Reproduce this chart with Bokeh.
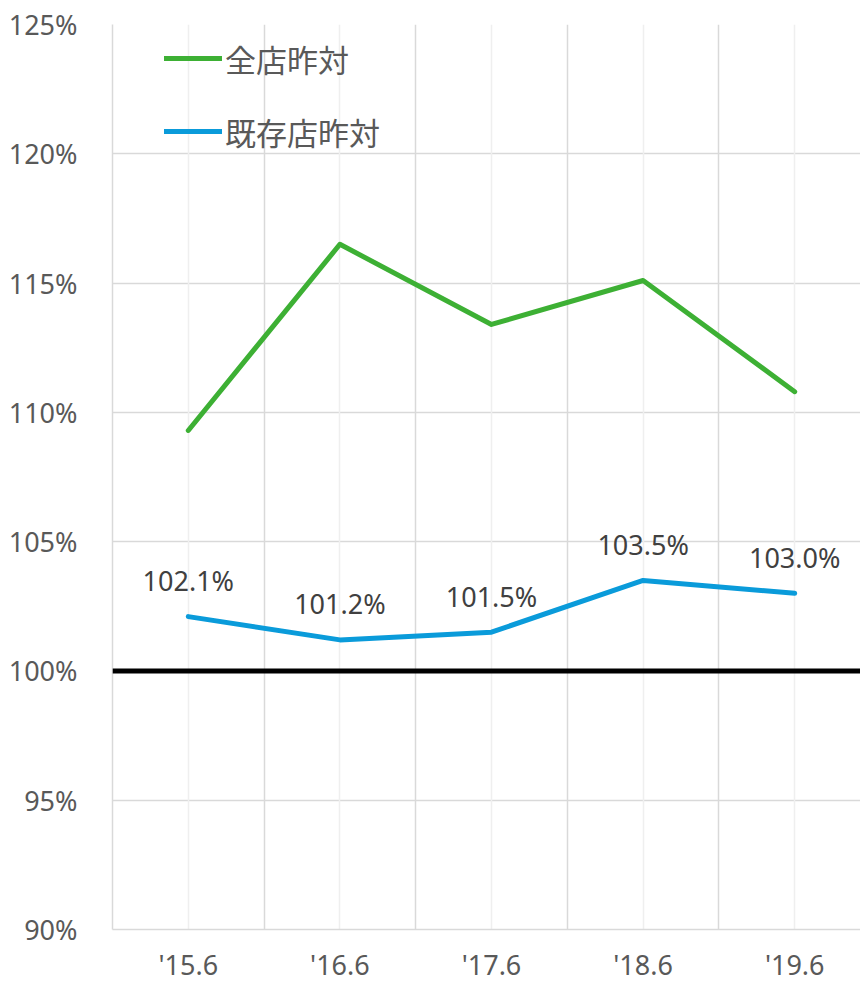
from bokeh.plotting import figure
from bokeh.models import (Range1d, FixedTicker, Grid, Legend, LegendItem,
                          ColumnDataSource, Span)
from bokeh.core.properties import value
from bokeh.embed import file_html
from bokeh.resources import INLINE

categories = ["'15.6", "'16.6", "'17.6", "'18.6", "'19.6"]
all_store = [109.3, 116.5, 113.4, 115.1, 110.8]
existing_store = [102.1, 101.2, 101.5, 103.5, 103.0]
y_ticks = [90, 95, 100, 105, 110, 115, 120, 125]
series_names = ["全店昨対", "既存店昨対"]

xs = list(range(len(categories)))

LATIN = "Noto Sans"
CJK = "Noto Sans CJK JP"

p = figure(width=860, height=984, output_backend="svg", toolbar_location=None,
           x_range=Range1d(-0.5, 4.434), y_range=Range1d(90, 125),
           frame_width=748, frame_height=905,
           min_border_left=112, min_border_right=0, min_border_top=24,
           min_border_bottom=55)
p.outline_line_color = None
p.background_fill_color = "white"

# grids
p.xgrid.visible = False
p.ygrid.ticker = FixedTicker(ticks=[95, 105, 110, 115, 120, 125])
p.ygrid.grid_line_color = "#D9D9D9"
p.ygrid.grid_line_width = 1.5

center_grid = Grid(dimension=0, ticker=FixedTicker(ticks=xs),
                   grid_line_color="#EFEFEF", grid_line_width=1.5)
bound_grid = Grid(dimension=0, ticker=FixedTicker(ticks=[0.5, 1.5, 2.5, 3.5]),
                  grid_line_color="#D9D9D9", grid_line_width=1.5)
p.add_layout(center_grid)
p.add_layout(bound_grid)

# axes
p.yaxis.ticker = FixedTicker(ticks=y_ticks)
p.yaxis.major_label_overrides = {t: f"{t}%" for t in y_ticks}
p.yaxis.axis_line_color = "#D9D9D9"
p.yaxis.axis_line_width = 1.5
p.yaxis.major_tick_line_color = None
p.yaxis.minor_tick_line_color = None
p.yaxis.major_label_standoff = 29
p.yaxis.major_label_text_font = LATIN
p.yaxis.major_label_text_font_size = "27px"
p.yaxis.major_label_text_color = "#595959"

p.xaxis.ticker = FixedTicker(ticks=xs)
p.xaxis.major_label_overrides = {i: c for i, c in enumerate(categories)}
p.xaxis.axis_line_color = "#D9D9D9"
p.xaxis.axis_line_width = 1.5
p.xaxis.major_tick_line_color = None
p.xaxis.minor_tick_line_color = None
p.xaxis.major_label_standoff = 10
p.xaxis.major_label_text_font = LATIN
p.xaxis.major_label_text_font_size = "27px"
p.xaxis.major_label_text_color = "#595959"

# 100% line
p.add_layout(Span(location=100, dimension="width", line_color="black",
                  line_width=5))

green = "#3DB034"
blue = "#0A9BDA"

src = ColumnDataSource(dict(
    x=xs, all=all_store, ex=existing_store,
    lbl=[f"{v:.1f}%" for v in existing_store]))

r1 = p.line("x", "all", source=src, line_color=green, line_width=5,
            line_join="round", line_cap="round")
r2 = p.line("x", "ex", source=src, line_color=blue, line_width=5,
            line_join="round", line_cap="round")

p.text("x", "ex", text="lbl", source=src, text_align="center",
       text_baseline="middle", y_offset=-36, text_color="#404040",
       text_font=value(LATIN), text_font_size="27px")

legend = Legend(items=[LegendItem(label=series_names[0], renderers=[r1]),
                       LegendItem(label=series_names[1], renderers=[r2])],
                location=(52, 775), orientation="vertical",
                glyph_width=58, glyph_height=46, label_height=46,
                label_standoff=3, spacing=27, padding=0, margin=0,
                border_line_color=None, background_fill_alpha=0,
                label_text_font=CJK, label_text_font_size="31px",
                label_text_color="#595959")
p.add_layout(legend)

open("out.html", "w").write(file_html(p, INLINE))
